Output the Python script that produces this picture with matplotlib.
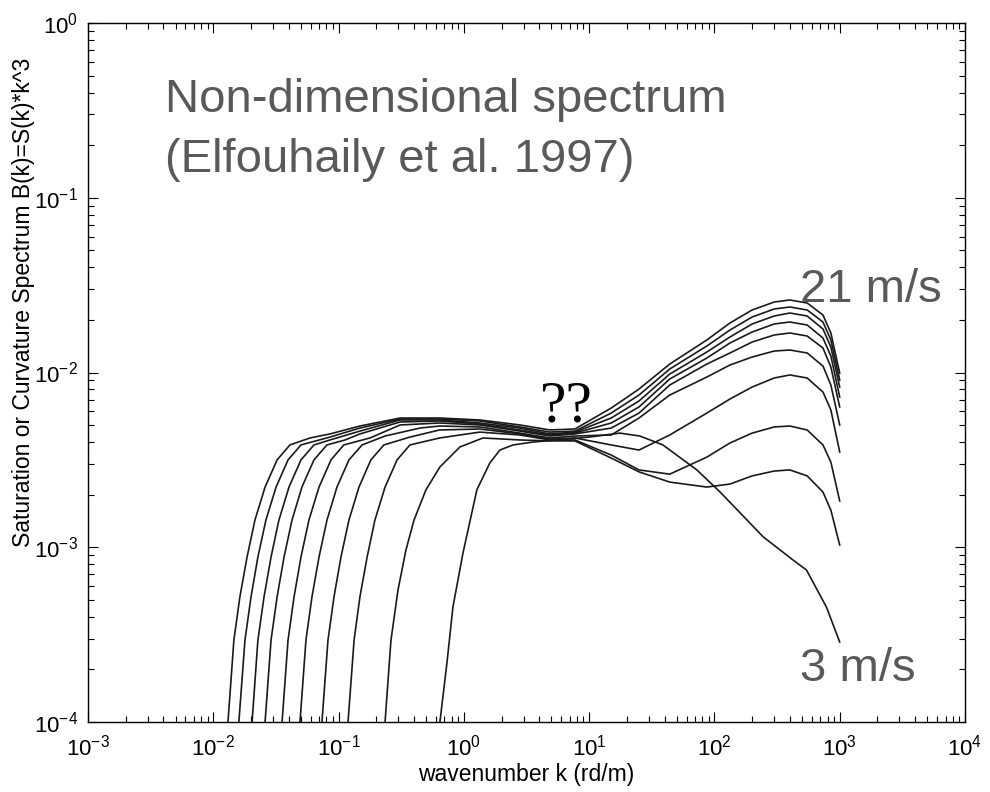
import matplotlib
matplotlib.use('Agg')
import matplotlib.pyplot as plt
from matplotlib.ticker import LogLocator, NullFormatter, FixedLocator

# curvature spectra B(k), one curve per wind speed
wind_speeds = [21, 19, 17, 15, 13, 11, 9, 7, 5, 3]

k_21 = [0.0131, 0.0146, 0.0163, 0.0186, 0.0215, 0.0259, 0.0323, 0.0409, 0.0591, 0.0853, 0.148,
        0.31, 0.64, 1.34, 2.8, 4.86, 7.7, 15, 25, 44, 87, 133, 200, 300, 400, 550, 735, 850, 1000]
b_21 = [1.0e-4, 2.94e-4, 5.19e-4, 8.79e-4, 1.43e-3, 2.21e-3, 3.16e-3, 3.85e-3, 4.22e-3, 4.45e-3, 4.94e-3,
        5.49e-3, 5.49e-3, 5.35e-3, 5.01e-3, 4.69e-3, 4.75e-3, 6.26e-3, 8.04e-3, 1.118e-2, 1.535e-2,
        1.92e-2, 2.279e-2, 2.531e-2, 2.60e-2, 2.498e-2, 2.133e-2, 1.683e-2, 9.93e-3]

k_19 = [0.0160, 0.0179, 0.0200, 0.0227, 0.0263, 0.0317, 0.0395, 0.0501, 0.0853, 0.148,
        0.31, 0.64, 1.34, 2.8, 4.86, 7.7, 15, 25, 44, 87, 133, 200, 300, 400, 550, 735, 850, 1000]
b_19 = [1.0e-4, 2.94e-4, 5.19e-4, 8.79e-4, 1.43e-3, 2.21e-3, 3.16e-3, 3.85e-3, 4.27e-3, 4.81e-3,
        5.42e-3, 5.42e-3, 5.28e-3, 4.88e-3, 4.56e-3, 4.62e-3, 5.86e-3, 7.43e-3, 1.047e-2, 1.418e-2,
        1.75e-2, 2.077e-2, 2.309e-2, 2.37e-2, 2.279e-2, 1.945e-2, 1.535e-2, 9.06e-3]

k_17 = [0.0204, 0.0227, 0.0254, 0.0289, 0.0334, 0.0402, 0.0501, 0.0636, 0.0853, 0.148,
        0.31, 0.64, 1.34, 2.8, 4.86, 7.7, 15, 25, 44, 87, 133, 200, 300, 400, 550, 735, 850, 1000]
b_17 = [1.0e-4, 2.94e-4, 5.19e-4, 8.79e-4, 1.43e-3, 2.21e-3, 3.16e-3, 3.85e-3, 4.11e-3, 4.62e-3,
        5.35e-3, 5.35e-3, 5.14e-3, 4.81e-3, 4.45e-3, 4.56e-3, 5.49e-3, 6.87e-3, 9.8e-3, 1.31e-2,
        1.596e-2, 1.895e-2, 2.105e-2, 2.19e-2, 2.105e-2, 1.774e-2, 1.399e-2, 8.26e-3]

k_15 = [0.0259, 0.0289, 0.0323, 0.0367, 0.0425, 0.0510, 0.0636, 0.0808, 0.1125, 0.148,
        0.31, 0.64, 1.34, 2.8, 4.86, 7.7, 15, 25, 44, 87, 133, 200, 300, 400, 550, 735, 850, 1000]
b_15 = [1.0e-4, 2.94e-4, 5.19e-4, 8.79e-4, 1.43e-3, 2.21e-3, 3.16e-3, 3.85e-3, 4.11e-3, 4.45e-3,
        5.21e-3, 5.28e-3, 5.07e-3, 4.69e-3, 4.39e-3, 4.50e-3, 5.14e-3, 6.35e-3, 9.18e-3, 1.21e-2,
        1.475e-2, 1.705e-2, 1.895e-2, 1.945e-2, 1.87e-2, 1.575e-2, 1.243e-2, 7.24e-3]

k_13 = [0.0354, 0.0395, 0.0441, 0.0501, 0.0580, 0.0698, 0.0870, 0.110, 0.178,
        0.31, 0.64, 1.34, 2.8, 4.86, 7.7, 15, 25, 44, 87, 133, 200, 300, 400, 550, 735, 850, 1000]
b_13 = [1.0e-4, 2.94e-4, 5.19e-4, 8.79e-4, 1.43e-3, 2.21e-3, 3.16e-3, 3.85e-3, 4.22e-3,
        5.01e-3, 5.14e-3, 5.01e-3, 4.62e-3, 4.33e-3, 4.45e-3, 4.81e-3, 5.86e-3, 8.48e-3, 1.118e-2,
        1.293e-2, 1.494e-2, 1.639e-2, 1.683e-2, 1.617e-2, 1.381e-2, 1.075e-2, 6.35e-3]

k_11 = [0.0492, 0.0549, 0.0613, 0.0698, 0.0808, 0.0971, 0.121, 0.154, 0.235,
        0.446, 0.64, 1.34, 2.8, 4.86, 7.7, 15, 25, 44, 87, 133, 200, 300, 400, 550, 735, 850, 1000]
b_11 = [1.0e-4, 2.94e-4, 5.19e-4, 8.79e-4, 1.43e-3, 2.21e-3, 3.16e-3, 3.85e-3, 4.33e-3,
        4.81e-3, 4.94e-3, 4.88e-3, 4.50e-3, 4.22e-3, 4.33e-3, 4.39e-3, 5.49e-3, 7.43e-3, 9.42e-3,
        1.104e-2, 1.226e-2, 1.327e-2, 1.345e-2, 1.293e-2, 1.089e-2, 8.48e-3, 5.01e-3]

k_9 = [0.0737, 0.0823, 0.0919, 0.1045, 0.121, 0.1455, 0.181, 0.230, 0.371,
       0.64, 1.34, 2.8, 4.86, 7.7, 15, 25, 44, 87, 133, 200, 300, 400, 550, 735, 850, 1000]
b_9 = [1.0e-4, 2.94e-4, 5.19e-4, 8.79e-4, 1.43e-3, 2.21e-3, 3.16e-3, 3.85e-3, 4.27e-3,
       4.69e-3, 4.75e-3, 4.45e-3, 4.16e-3, 4.22e-3, 3.85e-3, 3.60e-3, 4.39e-3, 5.86e-3, 7.05e-3,
       8.26e-3, 9.3e-3, 9.68e-3, 9.3e-3, 7.73e-3, 6.1e-3, 3.51e-3]

k_7 = [0.119, 0.133, 0.148, 0.169, 0.195, 0.235, 0.293, 0.371,
       0.64, 1.34, 2.8, 4.86, 7.7, 15, 25, 44, 87, 133, 200, 300, 400, 550, 735, 850, 1000]
b_7 = [1.0e-4, 2.94e-4, 5.19e-4, 8.79e-4, 1.43e-3, 2.21e-3, 3.16e-3, 3.85e-3,
       4.22e-3, 4.56e-3, 4.39e-3, 4.11e-3, 4.11e-3, 3.37e-3, 2.77e-3, 2.62e-3, 3.28e-3, 3.95e-3,
       4.50e-3, 4.88e-3, 4.94e-3, 4.69e-3, 3.85e-3, 3.07e-3, 1.84e-3]

k_5 = [0.235, 0.262, 0.298, 0.345, 0.400, 0.498, 0.644, 0.931, 1.42,
       2.8, 4.86, 7.7, 15, 25, 44, 87, 133, 200, 300, 400, 550, 735, 850, 1000]
b_5 = [1.0e-4, 2.94e-4, 5.69e-4, 9.65e-4, 1.43e-3, 2.13e-3, 2.88e-3, 3.75e-3, 4.22e-3,
       4.11e-3, 4.06e-3, 4.06e-3, 3.24e-3, 2.70e-3, 2.36e-3, 2.21e-3, 2.30e-3, 2.56e-3, 2.73e-3,
       2.77e-3, 2.56e-3, 2.07e-3, 1.63e-3, 1.03e-3]

k_3 = [0.644, 0.733, 0.818, 0.984, 1.27, 1.61, 1.94, 2.47, 3.56, 5.53, 9.96,
       17.6, 25.4, 38.8, 72.4, 111, 244, 424, 543, 783, 1000]
b_3 = [1.0e-4, 2.18e-4, 4.55e-4, 9.27e-4, 2.13e-3, 3.03e-3, 3.60e-3, 3.85e-3, 4.00e-3, 4.11e-3, 4.27e-3,
       4.50e-3, 4.33e-3, 3.85e-3, 2.77e-3, 2.07e-3, 1.15e-3, 8.45e-4, 7.41e-4, 4.55e-4, 2.87e-4]

curves = [(k_21, b_21), (k_19, b_19), (k_17, b_17), (k_15, b_15), (k_13, b_13),
          (k_11, b_11), (k_9, b_9), (k_7, b_7), (k_5, b_5), (k_3, b_3)]

x_ticks = [1e-3, 1e-2, 1e-1, 1e0, 1e1, 1e2, 1e3, 1e4]
y_ticks = [1e-4, 1e-3, 1e-2, 1e-1, 1e0]

plt.rcParams['font.family'] = 'Liberation Sans'
plt.rcParams['mathtext.fontset'] = 'custom'
plt.rcParams['mathtext.rm'] = 'Liberation Sans'
plt.rcParams['mathtext.it'] = 'Liberation Sans:italic'

fig = plt.figure(figsize=(9.9, 7.92), dpi=100)
ax = fig.add_axes([88 / 990, 1 - 722 / 792, 877 / 990, 699 / 792])

for k, b in curves:
    ax.plot(k, b, color='#1a1a1a', linewidth=1.2)

ax.set_xscale('log')
ax.set_yscale('log')
ax.set_xlim(1e-3, 1e4)
ax.set_ylim(1e-4, 1e0)

ax.xaxis.set_major_locator(FixedLocator(x_ticks))
ax.yaxis.set_major_locator(FixedLocator(y_ticks))
ax.xaxis.set_minor_locator(LogLocator(base=10, subs=range(2, 10), numticks=100))
ax.yaxis.set_minor_locator(LogLocator(base=10, subs=range(2, 10), numticks=100))
ax.xaxis.set_minor_formatter(NullFormatter())
ax.yaxis.set_minor_formatter(NullFormatter())

ax.tick_params(which='both', direction='in', top=True, right=True, width=0.8, labelsize=16)
ax.tick_params(which='major', length=7)
ax.tick_params(which='minor', length=4)
ax.tick_params(axis='x', pad=9)
ax.tick_params(axis='y', pad=7)
for spine in ax.spines.values():
    spine.set_linewidth(1.0)

ax.set_xlabel("wavenumber k (rd/m)", fontsize=16.5)
ax.set_ylabel("Saturation or Curvature Spectrum B(k)=S(k)*k^3", fontsize=16.5)
ax.xaxis.set_label_coords(0.5, -0.058)
ax.yaxis.set_label_coords(-0.061, 0.601)

grey = '#595959'
fig.text(165 / 990, 1 - 112 / 792, "Non-dimensional spectrum", fontsize=34, color=grey, va='baseline')
fig.text(165 / 990, 1 - 172 / 792, "(Elfouhaily et al. 1997)", fontsize=34, color=grey, va='baseline')
fig.text(800 / 990, 1 - 302 / 792, "21 m/s", fontsize=34, color=grey, va='baseline')
fig.text(800 / 990, 1 - 681 / 792, "3 m/s", fontsize=34, color=grey, va='baseline')
fig.text(540 / 990, 1 - 421 / 792, "??", fontsize=43, color='black', va='baseline',
         family='Liberation Serif')

fig.savefig('out.png', dpi=100)
